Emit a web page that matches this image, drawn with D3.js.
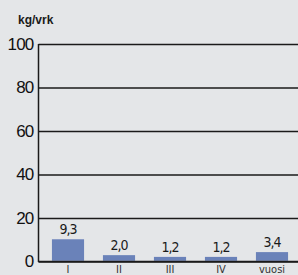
<!DOCTYPE html>
<html><head><meta charset="utf-8">
<script src="https://cdn.jsdelivr.net/npm/d3@7"></script>
<style>
html,body{margin:0;padding:0;background:#e4e6e8;}
svg{display:block;}
</style></head><body>
<script>
const categories = ["I","II","III","IV","vuosi"];
const values = [9.3, 2.0, 1.2, 1.2, 3.4];
const valueLabels = ["9,3","2,0","1,2","1,2","3,4"];
const yTicks = [0,20,40,60,80,100];
const unitLabel = "kg/vrk";

const W = 298, H = 275;
const svg = d3.select("body").append("svg").attr("width", W).attr("height", H);
svg.append("rect").attr("width", W).attr("height", H).attr("fill", "#e4e6e8");

const y = d3.scaleLinear().domain([0,100]).range([261.5, 44]);
const x = d3.scaleBand().domain(categories).range([42.5, 297.5]).paddingInner(0.37).paddingOuter(0.185);

// gridlines
const yAxis = d3.axisLeft(y).tickValues(yTicks).tickSize(-(W - 38.5)).tickFormat(d => d);
const gy = svg.append("g").attr("transform", "translate(38.5,0)").call(yAxis);
gy.select(".domain").remove();
gy.selectAll(".tick line").attr("stroke", "#1a1a1a").attr("stroke-width", 1.4);
gy.selectAll(".tick text").attr("x", -5).attr("fill", "#111")
  .attr("font-family", "'Liberation Sans', Arial, sans-serif").attr("font-size", 17)
  .attr("letter-spacing", "-0.8");
svg.append("line").attr("x1", 38.5).attr("x2", 38.5).attr("y1", y(100)).attr("y2", y(0) + 0.5)
  .attr("stroke", "#1a1a1a").attr("stroke-width", 1.5);

svg.append("text").attr("x", 18).attr("y", 24).text(unitLabel)
  .attr("font-family", "'Liberation Sans', Arial, sans-serif").attr("font-weight", "bold")
  .attr("font-size", 12).attr("fill", "#1a1a1a");

// bars
svg.append("g").selectAll("rect").data(values).join("rect")
  .attr("x", (d,i) => x(categories[i]))
  .attr("width", x.bandwidth())
  .attr("y", d => y(d) - 2)
  .attr("height", d => y(0) - y(d) + 1.3)
  .attr("fill", "#6a82b9");

// redraw baseline over bars
svg.append("line").attr("x1", 38.5).attr("x2", W).attr("y1", y(0)).attr("y2", y(0))
  .attr("stroke", "#1a1a1a").attr("stroke-width", 1.4);

// value labels
svg.append("g").selectAll("text").data(values).join("text")
  .attr("x", (d,i) => x(categories[i]) + x.bandwidth()/2)
  .attr("y", d => y(d) - 7)
  .attr("text-anchor", "middle")
  .attr("font-family", "'DejaVu Sans Condensed', 'Liberation Sans Narrow', sans-serif")
  .attr("font-stretch", "condensed")
  .attr("font-size", 14).attr("letter-spacing", "-1").attr("fill", "#1a1a1a")
  .text((d,i) => valueLabels[i]);

// category labels
svg.append("g").selectAll("text").data(categories).join("text")
  .attr("x", d => x(d) + x.bandwidth()/2)
  .attr("y", 272.5)
  .attr("text-anchor", "middle")
  .attr("font-family", "'DejaVu Sans Condensed', 'Liberation Sans Narrow', sans-serif")
  .attr("font-stretch", "condensed")
  .attr("font-size", 11).attr("fill", "#333")
  .text(d => d);
</script>
</body></html>
